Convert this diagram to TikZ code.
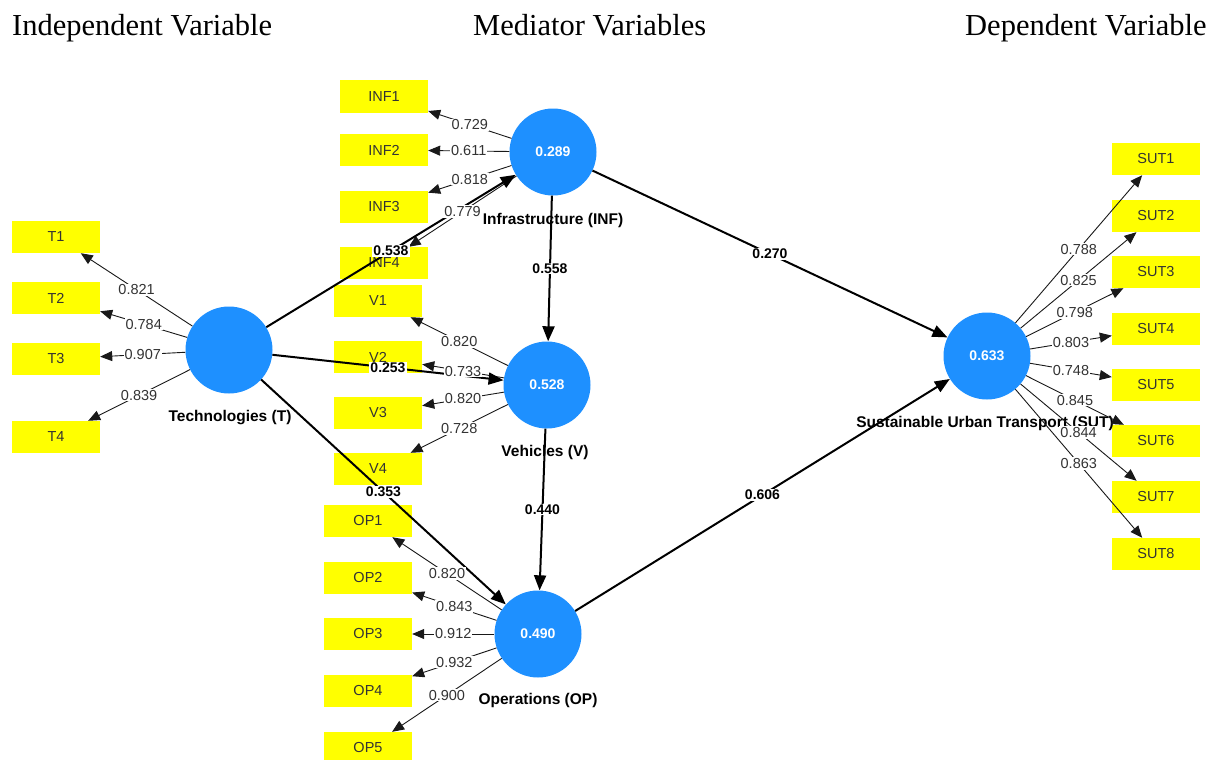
\documentclass[tikz,border=0pt]{standalone}
\usepackage{fontspec}
\setmainfont{Liberation Sans}
\newfontfamily\hdrfont{Liberation Serif}
\usetikzlibrary{arrows.meta}
\definecolor{lvblue}{RGB}{30,144,255}
\definecolor{indyellow}{RGB}{255,255,0}
\definecolor{txtgray}{RGB}{51,51,51}
\definecolor{linegray}{RGB}{25,25,25}
\begin{document}
\begin{tikzpicture}[x=1pt,y=-1pt,
  lv/.style={circle,fill=lvblue,minimum size=87pt,inner sep=0pt,text=white,font=\fontsize{14}{14}\selectfont\bfseries},
  ind/.style={rectangle,fill=indyellow,minimum width=88pt,minimum height=32pt,inner sep=0pt,font=\fontsize{14.5}{14.5}\selectfont,text=txtgray},
  lvname/.style={font=\fontsize{15.5}{16}\selectfont\bfseries,text=black},
  loadarrow/.style={draw=linegray,line width=0.9pt,-{Triangle[length=12pt,width=10pt]}},
  structarrow/.style={draw=black,line width=2pt,-{Triangle[length=15pt,width=12pt]}},
  lload/.style={fill=white,inner sep=1pt,font=\fontsize{14.5}{14.5}\selectfont,text=txtgray},
  lpath/.style={fill=white,inner sep=1pt,font=\fontsize{14}{14}\selectfont\bfseries,text=black},
  hdr/.style={font=\hdrfont\fontsize{30.5}{31}\selectfont,anchor=base west,inner sep=0pt}
]
\clip (0,0) rectangle (1221,760);
\fill[white] (0,0) rectangle (1221,760);

% headers
\node[hdr] (h1) at (12,36) {Independent Variable};
\node[hdr] (h2) at (473,36) {Mediator Variables};
\node[hdr] (h3) at (965,36) {Dependent Variable};

% indicator boxes
\foreach \n/\y in {INF1/96.5,INF2/150,INF3/207,INF4/263} \node[ind] (\n) at (384,\y) {\n};
\foreach \n/\y in {T1/237,T2/298,T3/359,T4/437} \node[ind] (\n) at (56,\y) {\n};
\foreach \n/\y in {V1/301,V2/357,V3/413,V4/469} \node[ind] (\n) at (378,\y) {\n};
\foreach \n/\y in {OP1/521,OP2/578,OP3/634,OP4/691,OP5/748} \node[ind] (\n) at (368,\y) {\n};
\foreach \n/\y in {SUT1/159,SUT2/216,SUT3/272,SUT4/328.5,SUT5/384.5,SUT6/441,SUT7/497,SUT8/554} \node[ind] (\n) at (1156,\y) {\n};

% latent variables
\node[lv] (INF) at (553,152) {0.289};
\node[lv] (T) at (229,350) {};
\node[lv] (V) at (547,385) {0.528};
\node[lv] (OP) at (538,634) {0.490};
\node[lv] (SUT) at (987,356) {0.633};

% names
\node[lvname] (INFn) at (553,220) {Infrastructure (INF)};
\node[lvname] (Tn) at (230,418) {Technologies (T)};
\node[lvname] (Vn) at (545,452) {Vehicles (V)};
\node[lvname] (OPn) at (538,700) {Operations (OP)};
\node[lvname] (SUTn) at (985,423) {Sustainable Urban Transport (SUT)};

% loading arrows
\foreach \a/\b in {T/T1,T/T2,T/T3,T/T4,INF/INF1,INF/INF2,INF/INF3,INF/INF4,V/V1,V/V2,V/V3,V/V4,OP/OP1,OP/OP2,OP/OP3,OP/OP4,OP/OP5,SUT/SUT1,SUT/SUT2,SUT/SUT3,SUT/SUT4,SUT/SUT5,SUT/SUT6,SUT/SUT7,SUT/SUT8}
  \draw[loadarrow] (\a) -- (\b);

% structural paths
\foreach \a/\b in {T/INF,T/V,T/OP,INF/V,V/OP,INF/SUT,OP/SUT}
  \draw[structarrow] (\a) -- (\b);

% loading labels
\foreach \a/\b/\v in {T/T1/0.821,T/T2/0.784,T/T3/0.907,T/T4/0.839,INF/INF1/0.729,INF/INF2/0.611,INF/INF3/0.818,INF/INF4/0.779,V/V1/0.820,V/V2/0.733,V/V3/0.820,V/V4/0.728,OP/OP1/0.820,OP/OP2/0.843,OP/OP3/0.912,OP/OP4/0.932,OP/OP5/0.900,SUT/SUT1/0.788,SUT/SUT2/0.825,SUT/SUT3/0.798,SUT/SUT4/0.803,SUT/SUT5/0.748,SUT/SUT6/0.845,SUT/SUT7/0.844,SUT/SUT8/0.863}
  \path (\a) -- (\b) node[midway,lload] {\v};

% path labels
\foreach \a/\b/\v in {T/INF/0.538,T/V/0.253,T/OP/0.353,INF/V/0.558,V/OP/0.440,INF/SUT/0.270,OP/SUT/0.606}
  \path (\a) -- (\b) node[midway,lpath] {\v};
\end{tikzpicture}
\end{document}
